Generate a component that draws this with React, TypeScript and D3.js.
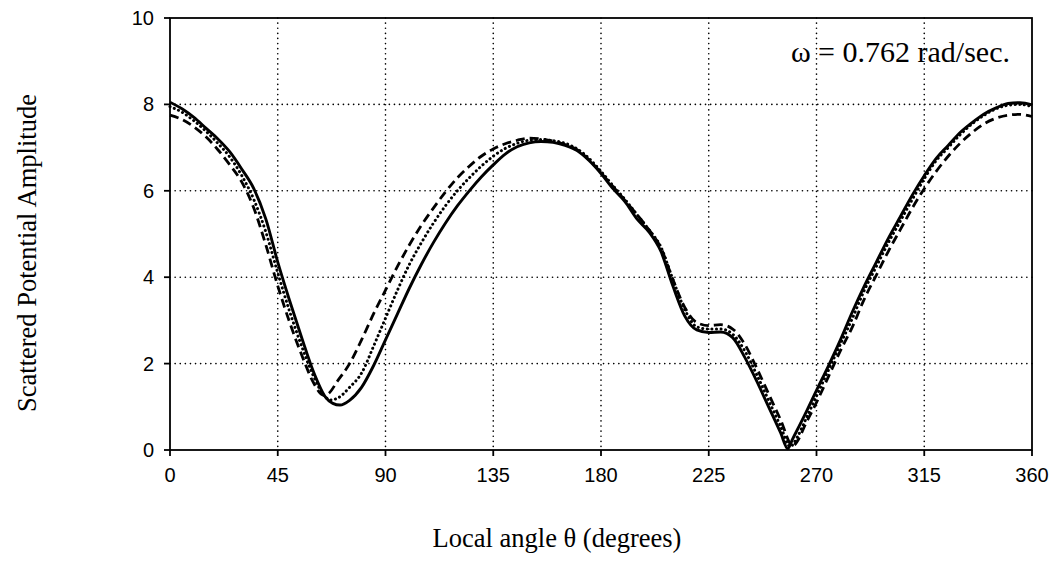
import React from "react";
import * as d3 from "d3";

const solidAngles = [0,5,10,15,20,25,30,35,40,45,50,55,60,65,68,71,75,80,85,90,95,100,105,110,115,120,125,130,135,140,145,150,155,160,165,170,175,180,185,190,195,200,205,210,215,220,225,230,235,240,245,250,255,258,260,265,270,275,280,285,290,295,300,305,310,315,320,325,330,335,340,345,350,355,360];
const solidValues = [8.05,7.9,7.7,7.45,7.2,6.9,6.5,6.05,5.35,4.35,3.45,2.6,1.8,1.22,1.08,1.04,1.15,1.45,1.95,2.55,3.15,3.75,4.3,4.8,5.25,5.65,6.0,6.32,6.6,6.85,7.02,7.11,7.14,7.12,7.05,6.93,6.7,6.4,6.05,5.75,5.35,5.05,4.6,3.8,3.1,2.78,2.72,2.73,2.6,2.15,1.6,1.0,0.4,0.03,0.25,0.8,1.38,1.95,2.55,3.2,3.8,4.35,4.9,5.4,5.9,6.35,6.75,7.05,7.35,7.58,7.78,7.92,8.02,8.04,7.99];

const dottedAngles = [0,5,10,15,20,25,30,35,40,45,50,55,60,65,67,70,75,80,85,90,95,100,105,110,115,120,125,130,135,140,145,150,155,160,165,170,175,180,185,190,195,200,205,210,215,220,225,230,235,240,245,250,255,259,262,265,270,275,280,285,290,295,300,305,310,315,320,325,330,335,340,345,350,355,360];
const dottedValues = [7.95,7.82,7.62,7.38,7.1,6.78,6.35,5.8,5.05,4.1,3.2,2.4,1.7,1.22,1.16,1.2,1.45,1.78,2.4,3.05,3.7,4.3,4.8,5.25,5.65,6.0,6.3,6.57,6.8,6.98,7.1,7.17,7.19,7.16,7.1,6.97,6.75,6.45,6.12,5.8,5.45,5.1,4.7,3.95,3.25,2.85,2.8,2.8,2.68,2.3,1.75,1.15,0.55,0.08,0.3,0.65,1.25,1.85,2.45,3.05,3.7,4.25,4.8,5.3,5.8,6.28,6.7,7.0,7.3,7.55,7.75,7.9,7.98,8.0,7.95];

const dashedAngles = [0,5,10,15,20,25,30,35,40,45,50,55,60,64,66,70,75,80,85,90,95,100,105,110,115,120,125,130,135,140,145,150,155,160,165,170,175,180,185,190,195,200,205,210,215,220,225,230,235,240,245,250,255,260,263,265,270,275,280,285,290,295,300,305,310,315,320,325,330,335,340,345,350,355,360];
const dashedValues = [7.75,7.65,7.48,7.25,6.95,6.6,6.2,5.6,4.75,3.8,2.95,2.2,1.55,1.27,1.3,1.6,2.0,2.55,3.15,3.7,4.25,4.75,5.2,5.6,5.97,6.3,6.57,6.8,6.97,7.09,7.17,7.22,7.2,7.15,7.07,6.95,6.72,6.42,6.1,5.78,5.45,5.1,4.68,3.95,3.3,2.95,2.88,2.9,2.8,2.45,1.9,1.3,0.7,0.1,0.3,0.55,1.1,1.7,2.3,2.85,3.5,4.05,4.6,5.1,5.6,6.05,6.45,6.8,7.1,7.35,7.55,7.68,7.75,7.77,7.72];

const xTicks = [0,45,90,135,180,225,270,315,360];
const yTicks = [0,2,4,6,8,10];

const W = 1053, H = 561;
const L = 170, R = 1032, T = 18, B = 450;

export default function App() {
  const x = d3.scaleLinear().domain([0,360]).range([L,R]);
  const y = d3.scaleLinear().domain([0,10]).range([B,T]);
  const line = d3.line<[number,number]>().x(d=>x(d[0])).y(d=>y(d[1])).curve(d3.curveMonotoneX);
  const mk = (a:number[], v:number[]) => a.map((ai,i)=>[ai, v[i]] as [number,number]);
  return (
    <svg width={W} height={H} style={{position:"absolute", left:0, top:0, background:"#fff"}}>
      <rect x={0} y={0} width={W} height={H} fill="#fff"/>
      {xTicks.filter(t=>t>0&&t<360).map(t=>(
        <line key={"gx"+t} x1={x(t)} x2={x(t)} y1={T} y2={B} stroke="#000" strokeWidth={1.6} strokeDasharray="0.1 5" strokeLinecap="round"/>
      ))}
      {yTicks.filter(t=>t>0&&t<10).map(t=>(
        <line key={"gy"+t} x1={L} x2={R} y1={y(t)} y2={y(t)} stroke="#000" strokeWidth={1.6} strokeDasharray="0.1 5" strokeLinecap="round"/>
      ))}
      <rect x={L} y={T} width={R-L} height={B-T} fill="none" stroke="#000" strokeWidth={1.8}/>
      {xTicks.map(t=>(
        <g key={"tx"+t}>
          <line x1={x(t)} x2={x(t)} y1={B} y2={B+6} stroke="#000" strokeWidth={1.8}/>
          <text x={x(t)} y={482} textAnchor="middle" fontFamily="Liberation Sans, Arial, sans-serif" fontSize={20}>{t}</text>
        </g>
      ))}
      {yTicks.map(t=>(
        <g key={"ty"+t}>
          <line x1={L-6} x2={L} y1={y(t)} y2={y(t)} stroke="#000" strokeWidth={1.8}/>
          <text x={154} y={y(t)+7} textAnchor="end" fontFamily="Liberation Sans, Arial, sans-serif" fontSize={20}>{t}</text>
        </g>
      ))}
      <path d={line(mk(dashedAngles,dashedValues)) || ""} fill="none" stroke="#000" strokeWidth={2.8} strokeDasharray="9 5"/>
      <path d={line(mk(dottedAngles,dottedValues)) || ""} fill="none" stroke="#000" strokeWidth={3} strokeDasharray="0.1 4.5" strokeLinecap="round"/>
      <path d={line(mk(solidAngles,solidValues)) || ""} fill="none" stroke="#000" strokeWidth={2.9}/>
      <text x={1010} y={62} textAnchor="end" fontFamily="Liberation Serif, Times New Roman, serif" fontSize={30}>ω = 0.762 rad/sec.</text>
      <text transform="translate(36,253) rotate(-90)" textAnchor="middle" fontFamily="Liberation Serif, Times New Roman, serif" fontSize={26.5}>Scattered Potential Amplitude</text>
      <text x={557} y={547} textAnchor="middle" fontFamily="Liberation Serif, Times New Roman, serif" fontSize={26.5}>Local angle θ (degrees)</text>
    </svg>
  );
}
